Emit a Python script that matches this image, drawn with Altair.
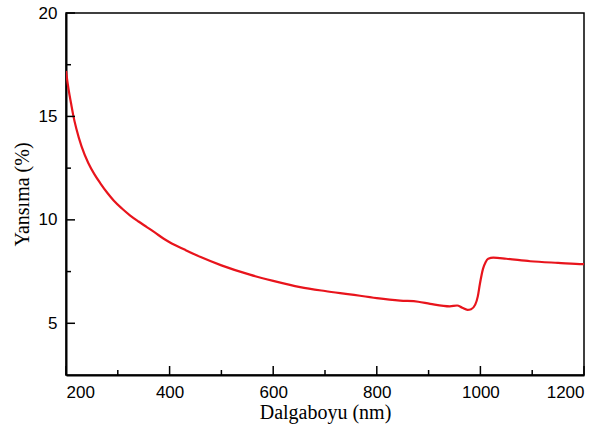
import altair as alt
import pandas as pd

wavelength = [200, 201, 205, 210, 214, 220, 230, 243, 255, 266, 280, 292, 308, 324, 340,
              356, 372, 388, 400, 430, 460, 500, 555, 600, 652, 700, 748, 800, 845, 880,
              903, 941, 955, 965, 975, 982, 990, 995, 999, 1005, 1010, 1015, 1025, 1050,
              1096, 1150, 1198, 1200]
reflectance = [17.2, 17.0, 16.3, 15.6, 15.05, 14.4, 13.55, 12.75, 12.2, 11.78, 11.3, 10.94,
               10.55, 10.21, 9.92, 9.65, 9.38, 9.1, 8.92, 8.55, 8.2, 7.8, 7.35, 7.05, 6.75,
               6.56, 6.4, 6.22, 6.1, 6.04, 5.94, 5.82, 5.86, 5.75, 5.65, 5.68, 5.9, 6.3,
               6.9, 7.63, 7.95, 8.12, 8.17, 8.12, 8.0, 7.92, 7.86, 7.86]

x_major = [200, 400, 600, 800, 1000, 1200]
x_minor = [300, 500, 700, 900, 1100]
y_major = [5, 10, 15, 20]
y_minor = [7.5, 12.5, 17.5]

W, H = 518, 362

df = pd.DataFrame({"wl": wavelength, "r": reflectance})
xs = alt.Scale(domain=[200, 1200], nice=False, zero=False)
ys = alt.Scale(domain=[2.5, 20], nice=False, zero=False)

line = alt.Chart(df).mark_line(color="#e8141c", strokeWidth=2.2, clip=True,
                               interpolate="monotone").encode(
    x=alt.X("wl:Q", scale=xs, title="Dalgaboyu (nm)",
            axis=alt.Axis(values=x_major, format="d", ticks=False, grid=False,
                          domainColor="black", domainWidth=2,
                          labelFont="Liberation Sans", labelFontSize=17,
                          labelColor="black", labelPadding=9,
                          titleFont="Liberation Serif", titleFontSize=20,
                          titleFontWeight="normal", titleColor="black", titlePadding=2)),
    y=alt.Y("r:Q", scale=ys, title="Yansıma (%)",
            axis=alt.Axis(values=y_major, format="d", ticks=False, grid=False,
                          domainColor="black", domainWidth=2,
                          labelFont="Liberation Sans", labelFontSize=17,
                          labelColor="black", labelPadding=9,
                          titleFont="Liberation Serif", titleFontSize=20,
                          titleFontWeight="normal", titleColor="black", titlePadding=6)),
)

xmaj = alt.Chart(pd.DataFrame({"t": x_major})).mark_rule(color="black", strokeWidth=1.5).encode(
    x=alt.X("t:Q", scale=xs), y=alt.value(H), y2=alt.value(H - 9))
xmin = alt.Chart(pd.DataFrame({"t": x_minor})).mark_rule(color="black", strokeWidth=1.5).encode(
    x=alt.X("t:Q", scale=xs), y=alt.value(H), y2=alt.value(H - 5))
ymaj = alt.Chart(pd.DataFrame({"t": y_major})).mark_rule(color="black", strokeWidth=1.5).encode(
    y=alt.Y("t:Q", scale=ys), x=alt.value(0), x2=alt.value(9))
ymin = alt.Chart(pd.DataFrame({"t": y_minor})).mark_rule(color="black", strokeWidth=1.5).encode(
    y=alt.Y("t:Q", scale=ys), x=alt.value(0), x2=alt.value(5))

chart = alt.layer(line, xmaj, xmin, ymaj, ymin).properties(
    width=W, height=H,
    autosize=alt.AutoSizeParams(type="none"),
    padding={"left": 66, "top": 13, "right": 30, "bottom": 66},
    background="white",
).configure_view(stroke="black", strokeWidth=1.5)

chart.save("out.html", embed_options={"renderer": "svg", "actions": False})
